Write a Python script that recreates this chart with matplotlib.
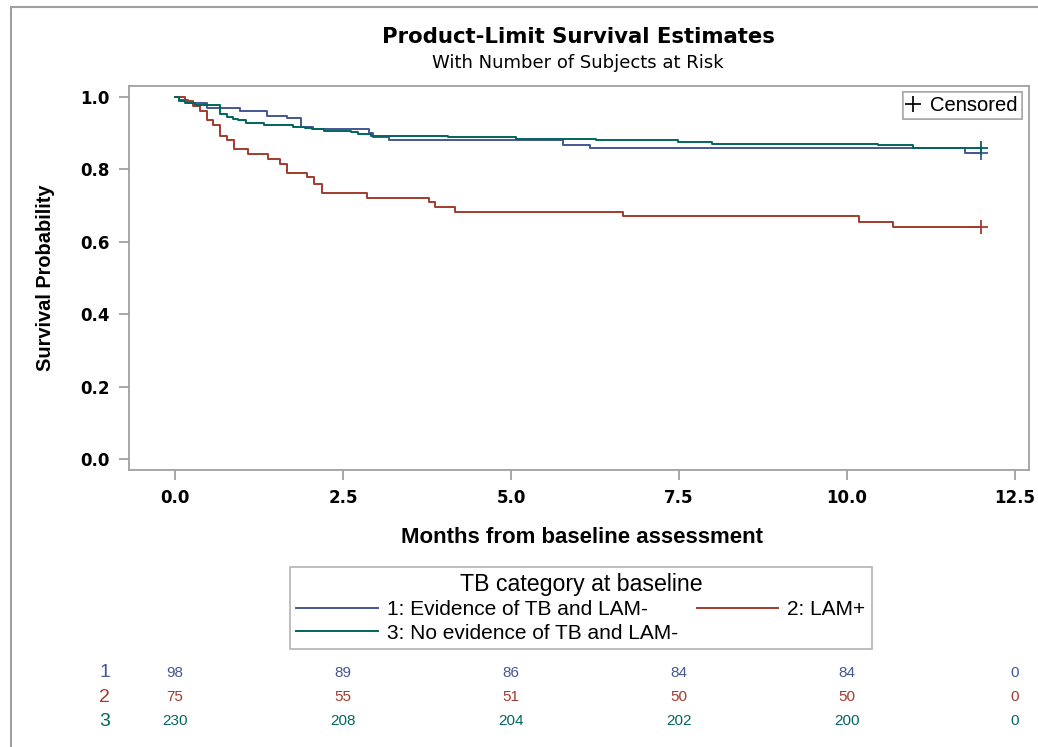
import matplotlib
matplotlib.use('Agg')
import matplotlib.pyplot as plt
from matplotlib.lines import Line2D
from matplotlib.patches import Rectangle
from matplotlib.transforms import blended_transform_factory

plt.rcParams['font.family'] = 'Liberation Sans'

# Kaplan-Meier step points (time in months, survival)
t1 = [0, 0.06, 0.2, 0.47, 0.96, 1.37, 1.66, 1.88, 2.06, 2.88, 2.95, 3.19, 5.78, 6.18, 11.76, 12]
s1 = [1.0, 0.992, 0.983, 0.970, 0.961, 0.948, 0.941, 0.918, 0.910, 0.900, 0.889, 0.880, 0.866, 0.860, 0.846, 0.846]

t2 = [0, 0.15, 0.27, 0.37, 0.47, 0.57, 0.67, 0.77, 0.88, 1.08, 1.38, 1.56, 1.66, 1.97, 2.07, 2.19,
      2.86, 3.78, 3.87, 4.17, 6.67, 10.18, 10.68, 12]
s2 = [1.0, 0.988, 0.976, 0.962, 0.936, 0.923, 0.893, 0.881, 0.856, 0.842, 0.829, 0.815, 0.789, 0.778, 0.760, 0.734,
      0.722, 0.709, 0.695, 0.683, 0.671, 0.654, 0.640, 0.640]

t3 = [0, 0.06, 0.15, 0.3, 0.67, 0.77, 0.87, 0.94, 1.05, 1.33, 1.75, 1.93, 2.04, 2.22, 2.62, 2.72, 2.92,
      4.07, 5.08, 6.27, 7.48, 7.99, 10.47, 10.98, 12]
s3 = [1.0, 0.988, 0.983, 0.978, 0.953, 0.944, 0.939, 0.935, 0.927, 0.923, 0.918, 0.914, 0.910, 0.906, 0.902, 0.898, 0.893,
      0.889, 0.884, 0.880, 0.876, 0.871, 0.866, 0.860, 0.860]

group_labels = ['1: Evidence of TB and LAM-', '2: LAM+', '3: No evidence of TB and LAM-']
colors = ['#445694', '#A23A2E', '#01665E']

risk_times = [0, 2.5, 5, 7.5, 10, 12.5]
risk1 = [98, 89, 86, 84, 84, 0]
risk2 = [75, 55, 51, 50, 50, 0]
risk3 = [230, 208, 204, 202, 200, 0]

fig = plt.figure(figsize=(10.38, 7.47), dpi=100)
ax = fig.add_axes([0.1243, 0.3708, 0.867, 0.5141])

lines = []
for t, s, c, lab in zip([t1, t2, t3], [s1, s2, s3], colors, group_labels):
    ln, = ax.step(t, s, where='post', color=c, lw=1.4, label=lab)
    ax.plot(t[-1], s[-1], marker='+', color=c, ms=10, mew=1.3)
    lines.append(ln)

ax.set_xlim(-0.685, 12.71)
ax.set_ylim(-0.03, 1.03)
ax.set_xticks([0, 2.5, 5, 7.5, 10, 12.5])
ax.set_xticklabels(['0.0', '2.5', '5.0', '7.5', '10.0', '12.5'])
ax.set_yticks([0, 0.2, 0.4, 0.6, 0.8, 1.0])
ax.set_yticklabels(['0.0', '0.2', '0.4', '0.6', '0.8', '1.0'])
for sp in ax.spines.values():
    sp.set_color('#a0a0a0')
    sp.set_linewidth(1.3)
ax.tick_params(colors='#a0a0a0', labelcolor='black', length=7, width=1.3, pad=7)
for lbl in ax.get_xticklabels() + ax.get_yticklabels():
    lbl.set_fontweight('bold')
    lbl.set_fontfamily('DejaVu Sans')
    lbl.set_fontsize(12)

ax.set_xlabel('Months from baseline assessment', fontsize=16, fontweight='bold', va='center')
ax.xaxis.set_label_coords(0.503, -0.1745)
ax.set_ylabel('Survival Probability', fontsize=14.4, fontweight='bold', va='center')
ax.yaxis.set_label_coords(-0.0933, 0.5)

fig.text(0.557, 0.950, 'Product-Limit Survival Estimates', ha='center', va='center',
         fontsize=15.3, fontweight='bold', family='DejaVu Sans')
fig.text(0.557, 0.916, 'With Number of Subjects at Risk', ha='center', va='center',
         fontsize=13, family='DejaVu Sans')

# censored legend
cens = Line2D([], [], color='black', marker='+', ls='none', ms=11, mew=1.2)
leg1 = ax.legend([cens], ['Censored'], loc='upper right', bbox_to_anchor=(0.992, 0.984),
                 frameon=True, fancybox=False, edgecolor='#a0a0a0', fontsize=14.5,
                 handlelength=0.6, handletextpad=0.55, borderpad=0.2, borderaxespad=0)
leg1.get_frame().set_linewidth(1.2)
ax.add_artist(leg1)

# group legend
leg2 = fig.legend([lines[0], lines[2], lines[1]], [group_labels[0], group_labels[2], group_labels[1]],
                  ncol=2, loc='upper left', bbox_to_anchor=(290 / 1038, 1 - 567 / 747),
                  title='TB category at baseline', title_fontsize=16.7, fontsize=15,
                  frameon=True, fancybox=False, edgecolor='#a0a0a0',
                  handlelength=3.9, handletextpad=0.45, columnspacing=0.9,
                  borderpad=0.3, labelspacing=0.2, borderaxespad=0)
leg2.get_frame().set_linewidth(1.2)

# number at risk table
tr = blended_transform_factory(ax.transData, fig.transFigure)
for row_y, vals, c, g in zip([0.0991, 0.0669, 0.0348], [risk1, risk2, risk3], colors, ['1', '2', '3']):
    fig.text(0.101, row_y, g, color=c, fontsize=14, ha='center', va='center')
    for x, v in zip(risk_times, vals):
        ax.text(x, row_y, str(v), color=c, fontsize=11, ha='center', va='center',
                transform=tr, clip_on=False)

# outer frame
fig.patches.append(Rectangle((11 / 1038, -0.05), 1.1, 0.9906 + 0.05, transform=fig.transFigure,
                             fill=False, edgecolor='#a0a0a0', lw=1.5))

fig.savefig('out.png', dpi=100)
